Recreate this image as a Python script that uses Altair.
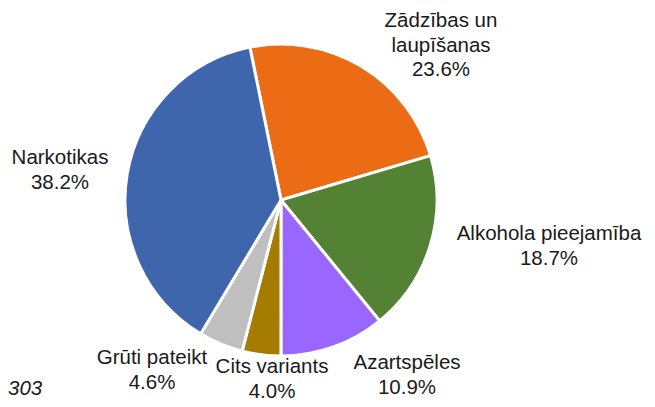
import altair as alt
import pandas as pd

categories = ["Zādzības un laupīšanas", "Alkohola pieejamība", "Azartspēles",
              "Cits variants", "Grūti pateikt", "Narkotikas"]
values = [23.6, 18.7, 10.9, 4.0, 4.6, 38.2]
colors = ["#EC6C15", "#548235", "#9966FF", "#A67C00", "#BFBFBF", "#3F65AD"]
label_lines = [["Zādzības un", "laupīšanas", "23.6%"],
               ["Alkohola pieejamība", "18.7%"],
               ["Azartspēles", "10.9%"],
               ["Cits variants", "4.0%"],
               ["Grūti pateikt", "4.6%"],
               ["Narkotikas", "38.2%"]]

# label layout (chart pixel coordinates of the first line of each label)
label_x = [433, 541, 399, 264, 144, 52]
label_y = [13, 226, 355, 359, 350, 150]

W, H = 639, 391
CX, CY, R = 273, 192, 156
start = -0.2007

df = pd.DataFrame({"cat": categories, "val": values,
                   "order": list(range(len(values)))})
lab = pd.DataFrame({"cat": categories, "text": label_lines,
                    "lx": label_x, "ly": label_y})

pie = alt.Chart(df).mark_arc(radius=R, stroke="white", strokeWidth=3).encode(
    theta=alt.Theta("val:Q", stack=True,
                    scale=alt.Scale(range=[start, start + 6.283185307])),
    color=alt.Color("cat:N", scale=alt.Scale(domain=categories, range=colors),
                    legend=None),
    order=alt.Order("order:Q"),
    x=alt.value(CX), y=alt.value(CY),
)

labels = alt.Chart(lab).mark_text(
    font="Liberation Sans", fontSize=20.5, lineHeight=24.5, color="#1a1a1a",
    align="center", baseline="middle"
).encode(
    x=alt.X("lx:Q", scale=None),
    y=alt.Y("ly:Q", scale=None),
    text="text",
)

note = alt.Chart(pd.DataFrame({"t": ["303"]})).mark_text(
    font="Liberation Sans", fontSize=20.5, fontStyle="italic", color="#1a1a1a",
    align="left", baseline="middle"
).encode(x=alt.value(0), y=alt.value(381), text="t:N")

chart = alt.layer(pie, labels, note).properties(
    width=W, height=H,
    autosize=alt.AutoSizeParams(type="fit", contains="padding"),
    padding=0,
).configure_view(stroke=None)

chart.save("out.html", embed_options={"renderer": "svg", "actions": False})
